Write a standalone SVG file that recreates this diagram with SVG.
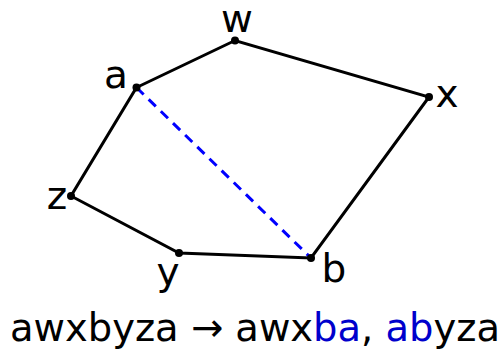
<svg xmlns="http://www.w3.org/2000/svg" width="504" height="350" viewBox="0 0 504 350">
<style>
.e{stroke:#000;stroke-width:3;fill:none;stroke-linecap:round}
.d{stroke:#0000ff;stroke-width:3;stroke-dasharray:10 7;fill:none}
.v{fill:#000}
.t{font-family:"DejaVu Sans",sans-serif;font-size:39px;fill:#000}
.l{text-anchor:middle}
.blue{fill:#0000cc}
</style>
<rect width="504" height="350" fill="#fff"/>
<g id="connectors">
<path class="e" d="M136.5,87.5 L235,40.5 L429,97 L311,258 L179,253 L71,196 Z"/>
<line class="d" x1="136.5" y1="87.5" x2="311" y2="258"/>
</g>
<g id="w"><circle class="v" cx="235" cy="40.5" r="4"/><text class="t l" x="237" y="32">w</text></g>
<g id="a"><circle class="v" cx="136.5" cy="87.5" r="4"/><text class="t l" x="116" y="88">a</text></g>
<g id="x"><circle class="v" cx="429" cy="97" r="4"/><text class="t l" x="447" y="107">x</text></g>
<g id="b"><circle class="v" cx="311" cy="258" r="4"/><text class="t l" x="334" y="282">b</text></g>
<g id="y"><circle class="v" cx="179" cy="253" r="4"/><text class="t l" x="168" y="285">y</text></g>
<g id="z"><circle class="v" cx="71" cy="196" r="4"/><text class="t l" x="57" y="209">z</text></g>
<text class="t" x="10" y="341" textLength="490" lengthAdjust="spacingAndGlyphs">awxbyza → awx<tspan class="blue">ba</tspan>, <tspan class="blue">ab</tspan>yza</text>
</svg>
